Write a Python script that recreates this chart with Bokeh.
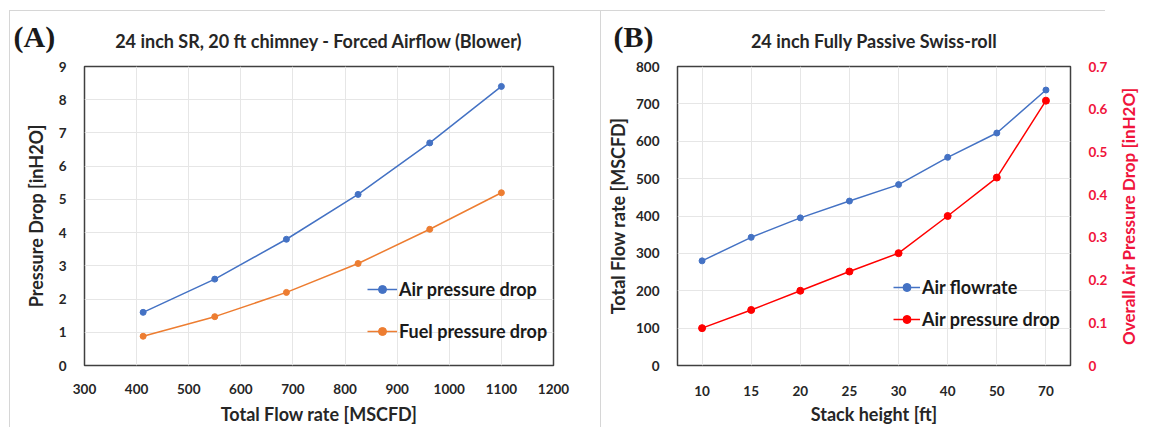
from bokeh.plotting import figure
from bokeh.models import (Range1d, FactorRange, LinearAxis, Legend, LegendItem, Title,
                          FixedTicker, ColumnDataSource)
from bokeh.layouts import row
from bokeh.embed import file_html
from bokeh.resources import INLINE

# ---------------- data ----------------
# Panel (A): forced airflow
flow_a = [412.5, 550, 687.5, 825, 962.5, 1100]
air_dp_a = [1.6, 2.6, 3.8, 5.15, 6.7, 8.4]
fuel_dp_a = [0.88, 1.47, 2.2, 3.07, 4.1, 5.2]
x_ticks_a = [300, 400, 500, 600, 700, 800, 900, 1000, 1100, 1200]
y_ticks_a = [0, 1, 2, 3, 4, 5, 6, 7, 8, 9]

# Panel (B): fully passive
stack_heights = ["10", "15", "20", "25", "30", "40", "50", "70"]
air_flow_b = [280, 343, 395, 440, 484, 557, 622, 737]
air_dp_b = [0.0875, 0.13, 0.175, 0.22, 0.263, 0.35, 0.44, 0.62]
y_ticks_b = [0, 100, 200, 300, 400, 500, 600, 700, 800]
y2_ticks_b = [0, 0.1, 0.2, 0.3, 0.4, 0.5, 0.6, 0.7]

FONT = "Lato"
BLUE = "#4472C4"
ORANGE = "#ED7D31"
RED = "#FF0000"
RED_TXT = "#F0143C"
TXT = "#262626"
GRID = "#e6e6e6"
FRAME = "#404040"
PANEL = "#d6d6d6"


def style_axis(ax, label_size="18px"):
    ax.major_tick_line_color = None
    ax.minor_tick_line_color = None
    ax.axis_line_color = None
    ax.major_label_text_font = FONT
    ax.major_label_text_font_style = "bold"
    ax.major_label_text_font_size = "13.5px"
    ax.major_label_text_color = TXT
    ax.major_label_standoff = 12
    ax.axis_label_text_font = FONT
    ax.axis_label_text_font_style = "bold"
    ax.axis_label_text_font_size = label_size
    ax.axis_label_text_color = TXT


def panel_bg(left, top, width, height):
    g = f"linear-gradient({PANEL},{PANEL})"
    return {
        "background": (f"{g} {left}px {top}px / 1px {height}px no-repeat, "
                       f"{g} {left}px {top}px / {width}px 1px no-repeat, #ffffff")
    }


def add_titles(p, letter, letter_offset, main_text):
    # panel letter sits closest to the frame, the main title is pulled down beside it
    p.add_layout(Title(text=letter, align="left", offset=letter_offset, standoff=28,
                       text_font="Liberation Serif", text_font_style="bold",
                       text_font_size="30px", text_color="#1a1a1a"), "above")
    p.add_layout(Title(text=main_text, align="center", standoff=-96,
                       text_font=FONT, text_font_style="bold",
                       text_font_size="18px", text_color=TXT), "above")


# ---------------- panel A ----------------
p1 = figure(width=600, height=427, x_range=Range1d(300, 1200), y_range=Range1d(0, 9),
            output_backend="svg", toolbar_location=None, title=None,
            min_border_left=84, min_border_right=47, min_border_top=64, min_border_bottom=62)
p1.border_fill_color = None
p1.background_fill_color = "#ffffff"
add_titles(p1, "(A)", -71, "24 inch SR, 20 ft chimney - Forced Airflow (Blower)")
p1.outline_line_color = FRAME
p1.outline_line_width = 1.5
p1.xgrid.grid_line_color = GRID
p1.ygrid.grid_line_color = GRID
p1.xaxis.ticker = FixedTicker(ticks=x_ticks_a)
p1.yaxis.ticker = FixedTicker(ticks=y_ticks_a)
p1.xaxis.axis_label = "Total Flow rate [MSCFD]"
p1.yaxis.axis_label = "Pressure Drop [inH2O]"
style_axis(p1.xaxis[0])
style_axis(p1.yaxis[0])
p1.xaxis.axis_label_standoff = 6
p1.yaxis.axis_label_standoff = 9

src_a = ColumnDataSource(dict(x=flow_a, air=air_dp_a, fuel=fuel_dp_a))
la = p1.line("x", "air", source=src_a, line_color=BLUE, line_width=1.5)
sa = p1.scatter("x", "air", source=src_a, size=6, fill_color=BLUE, line_color=BLUE)
lf = p1.line("x", "fuel", source=src_a, line_color=ORANGE, line_width=1.5)
sf = p1.scatter("x", "fuel", source=src_a, size=6, fill_color=ORANGE, line_color=ORANGE)

leg1 = Legend(items=[LegendItem(label="Air pressure drop", renderers=[la, sa]),
                     LegendItem(label="Fuel pressure drop", renderers=[lf, sf])],
              location=(283, 23), padding=0, margin=0, spacing=20,
              glyph_width=30, glyph_height=20, label_height=20, label_standoff=2,
              border_line_color=None, background_fill_alpha=0,
              label_text_font=FONT, label_text_font_style="bold",
              label_text_font_size="18px", label_text_color="#1a1a1a")
p1.add_layout(leg1)
p1.styles = panel_bg(9, 10, 600, 420)

# ---------------- panel B ----------------
p2 = figure(width=510, height=427, x_range=FactorRange(factors=stack_heights),
            y_range=Range1d(0, 800),
            output_backend="svg", toolbar_location=None, title=None,
            min_border_left=77, min_border_right=37, min_border_top=66, min_border_bottom=60)
p2.border_fill_color = None
p2.background_fill_color = "#ffffff"
p2.extra_y_ranges = {"dp": Range1d(0, 0.7)}
add_titles(p2, "(B)", -64, "24 inch Fully Passive Swiss-roll")
p2.outline_line_color = FRAME
p2.outline_line_width = 1.5
p2.xgrid.grid_line_color = GRID
p2.ygrid.grid_line_color = GRID
p2.yaxis.ticker = FixedTicker(ticks=y_ticks_b)
p2.xaxis.axis_label = "Stack height [ft]"
p2.yaxis.axis_label = "Total Flow rate [MSCFD]"
style_axis(p2.xaxis[0])
style_axis(p2.yaxis[0])
p2.xaxis.axis_label_standoff = 4
p2.yaxis.axis_label_standoff = 4
p2.xaxis.major_label_standoff = 14

# right axis: ticks only; its title is drawn in the narrow strip figure p3
ax2 = LinearAxis(y_range_name="dp", ticker=FixedTicker(ticks=y2_ticks_b))
style_axis(ax2)
ax2.major_label_text_color = RED_TXT
ax2.major_label_overrides = {0: "0"}
p2.add_layout(ax2, "right")

src_b = ColumnDataSource(dict(x=stack_heights, flow=air_flow_b, dp=air_dp_b))
lb = p2.line("x", "flow", source=src_b, line_color=BLUE, line_width=1.5)
sb = p2.scatter("x", "flow", source=src_b, size=6, fill_color=BLUE, line_color=BLUE)
lr = p2.line("x", "dp", source=src_b, line_color=RED, line_width=1.5, y_range_name="dp")
sr = p2.scatter("x", "dp", source=src_b, size=7, fill_color=RED, line_color=RED, y_range_name="dp")

leg2 = Legend(items=[LegendItem(label="Air flowrate", renderers=[lb, sb]),
                     LegendItem(label="Air pressure drop", renderers=[lr, sr])],
              location=(216, 35), padding=0, margin=0, spacing=10,
              glyph_width=27, glyph_height=20, label_height=20, label_standoff=2,
              border_line_color=None, background_fill_alpha=0,
              label_text_font=FONT, label_text_font_style="bold",
              label_text_font_size="18px", label_text_color="#1a1a1a")
p2.add_layout(leg2)
p2.styles = panel_bg(0, 10, 505, 420)

# ---------------- strip holding the right-axis title (reads bottom-to-top) ----------------
p3 = figure(width=40, height=427, x_axis_type=None, y_axis_type=None,
            output_backend="svg", toolbar_location=None, title=None,
            min_border_left=0, min_border_right=0, min_border_top=66, min_border_bottom=60)
p3.border_fill_color = None
p3.background_fill_color = None
p3.outline_line_color = None
p3.add_layout(Title(text="Overall Air Pressure Drop [inH2O]", align="center", standoff=10,
                    text_font=FONT, text_font_style="bold", text_font_size="17px",
                    text_color=RED_TXT), "left")

layout = row(p1, p2, p3, spacing=0)
open("out.html", "w").write(file_html(layout, INLINE))
